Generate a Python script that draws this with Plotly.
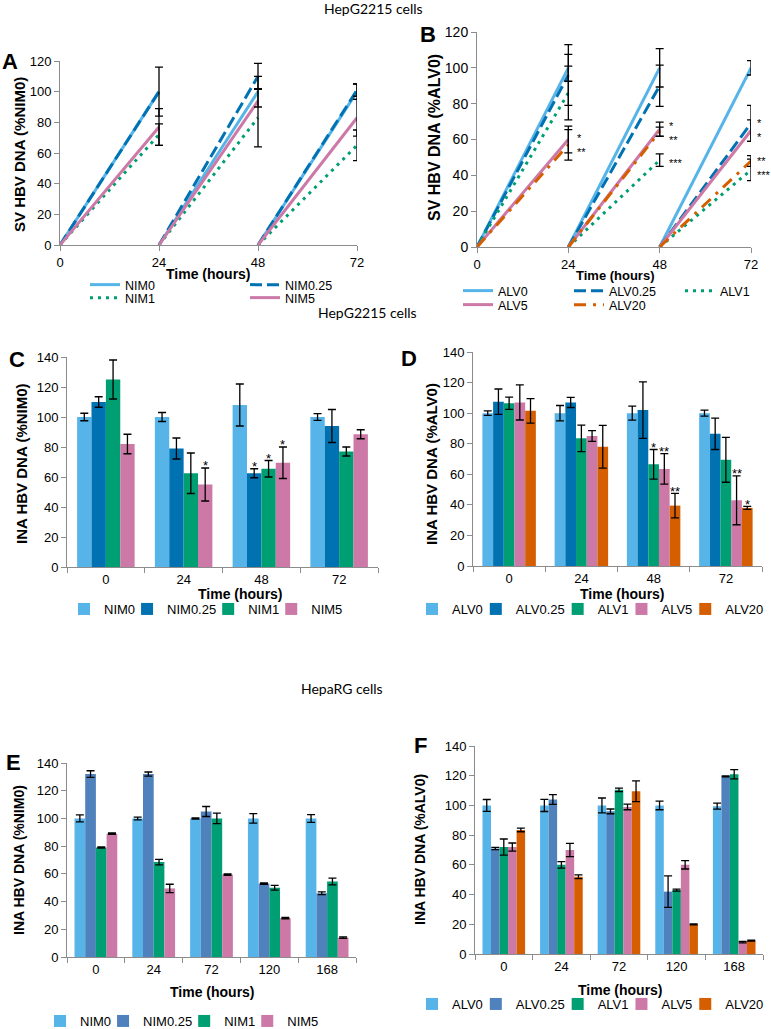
import plotly.graph_objects as go

W, H = 771, 1029

# ---------------- data ----------------
line_hours = [24, 48, 72]      # end of each 24 h interval
line_starts = [0, 24, 48]      # start of each interval (SV DNA counted from 0)

# Panel A – SV HBV DNA (%NIM0), HepG2215
sv_nim0 = [100, 100, 100]
sv_nim025 = [100, 110, 101]
sv_nim1 = [72, 83, 65]
sv_nim5 = [77, 94, 83]
sv_nim0_err = [16, 10, 5]
sv_nim025_err = [None, 8.5, 4]
sv_nim1_err = [7, 19, 10]
sv_nim5_err = [12, None, 12]

# Panel B – SV HBV DNA (%ALV0), HepG2215
sv_alv0 = [100, 100, 100]
sv_alv025 = [96, 90, 69]
sv_alv1 = [86, 48.5, 43]
sv_alv5 = [60, 65.7, 65]
sv_alv20 = [57, 64.4, 48]
sv_alv0_err = [7.5, 10.7, 4]
sv_alv025_err = [17, 11.5, 10]
sv_alv1_err = [15, 3.5, 6]
sv_alv5_err = [7.5, 4, 6]
sv_alv20_err = [8.5, 2.5, 3]
sv_alv025_sig = ["", "", "*"]
sv_alv1_sig = ["", "***", "***"]
sv_alv5_sig = ["*", "*", "*"]
sv_alv20_sig = ["**", "**", "**"]

# Panel C – INA HBV DNA (%NIM0), HepG2215
hepg_hours = ["0", "24", "48", "72"]
ina_nim0 = [100, 100, 108, 100]
ina_nim025 = [110, 79, 62.5, 94]
ina_nim1 = [125, 62.5, 65.5, 77]
ina_nim5 = [82, 55, 69.5, 88.5]
ina_nim0_err = [2.5, 3, 14, 2.2]
ina_nim025_err = [3.5, 7, 3, 11]
ina_nim1_err = [13, 13.5, 5.5, 3]
ina_nim5_err = [6.5, 11, 10.5, 3]
ina_nim0_sig = ["", "", "", ""]
ina_nim025_sig = ["", "", "*", ""]
ina_nim1_sig = ["", "", "*", ""]
ina_nim5_sig = ["", "*", "*", ""]

# Panel D – INA HBV DNA (%ALV0), HepG2215
ina_alv0 = [100, 100, 100, 100]
ina_alv025 = [107.5, 107, 102, 86.5]
ina_alv1 = [106.5, 83.5, 66.5, 69.5]
ina_alv5 = [107, 85, 63.5, 43]
ina_alv20 = [101.5, 78, 39.5, 38]
ina_alv0_err = [1.5, 5, 4.6, 2]
ina_alv025_err = [8.3, 3.3, 18.5, 10.3]
ina_alv1_err = [4, 8.7, 9.7, 14.7]
ina_alv5_err = [11.5, 3.5, 10, 16]
ina_alv20_err = [8, 14, 8, 1]
ina_alv0_sig = ["", "", "", ""]
ina_alv025_sig = ["", "", "", ""]
ina_alv1_sig = ["", "", "*", ""]
ina_alv5_sig = ["", "", "**", "**"]
ina_alv20_sig = ["", "", "**", "*"]

# Panel E – INA HBV DNA (%NIM0), HepaRG
heparg_hours = ["0", "24", "72", "120", "168"]
rg_nim0 = [100, 100, 100, 100, 100]
rg_nim025 = [132, 132, 105, 53, 46]
rg_nim1 = [79, 68.5, 100, 50, 54.5]
rg_nim5 = [89, 49.5, 59.5, 28, 14]
rg_nim0_err = [2.5, 1, 0.4, 3.4, 2.8]
rg_nim025_err = [2.4, 1.5, 3.6, 0.5, 1]
rg_nim1_err = [0.5, 2, 3.8, 1.7, 2.4]
rg_nim5_err = [0.5, 3, 0.5, 0.5, 0.5]

# Panel F – INA HBV DNA (%ALV0), HepaRG
rg_alv0 = [100, 100, 100, 100, 99.5]
rg_alv025 = [71, 104, 96, 42, 119.5]
rg_alv1 = [72, 60, 110.5, 43, 121]
rg_alv5 = [72, 70, 99, 60, 8]
rg_alv20 = [83.5, 52, 109.5, 20, 9]
rg_alv0_err = [4, 4.1, 5, 2.9, 2]
rg_alv025_err = [0.7, 3.3, 1.6, 10.6, 0.3]
rg_alv1_err = [5.4, 2.2, 1.2, 0.7, 3.1]
rg_alv5_err = [2.7, 4.4, 1.9, 2.8, 0.5]
rg_alv20_err = [1.2, 1.2, 7, 0.3, 0.3]

# ---------------- styles ----------------
C_LB = "#56B4E9"
C_DB = "#0072B2"
C_GR = "#009E73"
C_PK = "#CC79A7"
C_OR = "#D55E00"
C_SB = "#4F81BD"
AXC = "#8C8C8C"
FONT = "Liberation Sans, Arial, sans-serif"
BARGAP = 0.26
LEG_FS = 13
LINE_LEG_FS = 12.5

# approximate Arial/Liberation Sans advance widths (em) for legend spacing
CHAR_W = {"N": 0.722, "I": 0.278, "M": 0.833, "A": 0.667, "L": 0.556, "V": 0.667,
          ".": 0.278}


def text_w(s, size):
    return sum(CHAR_W.get(c, 0.556) for c in s) * size


fig = go.Figure()


def xd(a, b):
    return [a / W, b / W]


def yd(top, bottom):
    return [1 - bottom / H, 1 - top / H]


def px(x):
    return x / W


def py(y):
    return 1 - y / H


def sawtooth(values):
    xs, ys = [], []
    for s, e, v in zip(line_starts, line_hours, values):
        xs += [s, e, None]
        ys += [0, v, None]
    return xs, ys


def add_line(values, name, color, dash, ax, legend, lw):
    xs, ys = sawtooth(values)
    fig.add_trace(go.Scatter(
        x=xs, y=ys, mode="lines", name=name,
        line=dict(color=color, width=3, dash=dash),
        xaxis="x" + ax, yaxis="y" + ax, legend=legend, legendwidth=lw,
        hoverinfo="skip"))


def add_err(values, errs, ax):
    ex = [t for t, e in zip(line_hours, errs) if e is not None]
    ey = [v for v, e in zip(values, errs) if e is not None]
    ee = [e for e in errs if e is not None]
    fig.add_trace(go.Scatter(
        x=ex, y=ey, mode="markers", marker=dict(size=1, opacity=0),
        error_y=dict(type="data", array=ee, color="black", thickness=1.3, width=4),
        xaxis="x" + ax, yaxis="y" + ax, showlegend=False, cliponaxis=False,
        hoverinfo="skip"))


# Panel A
a_series = [
    (sv_nim0, sv_nim0_err, "NIM0", C_LB, "solid", "legend", 115),
    (sv_nim025, sv_nim025_err, "NIM0.25", C_DB, "12px,5px", "legend", 60),
    (sv_nim1, sv_nim1_err, "NIM1", C_GR, "3px,5px", "legend2", 115),
    (sv_nim5, sv_nim5_err, "NIM5", C_PK, "solid", "legend2", 40),
]
for v, e, n, c, d, lg, lw in a_series:
    add_line(v, n, c, d, "", lg, lw)
for v, e, n, c, d, lg, lw in a_series:
    add_err(v, e, "")

# Panel B
b_series = [
    (sv_alv0, sv_alv0_err, "ALV0", C_LB, "solid", "legend3", 66),
    (sv_alv025, sv_alv025_err, "ALV0.25", C_DB, "12px,5px", "legend3", 66),
    (sv_alv1, sv_alv1_err, "ALV1", C_GR, "3px,5px", "legend3", 36),
    (sv_alv5, sv_alv5_err, "ALV5", C_PK, "solid", "legend4", 66),
    (sv_alv20, sv_alv20_err, "ALV20", C_OR, "12px,7px,3px,7px", "legend4", 44),
]
for v, e, n, c, d, lg, lw in b_series:
    add_line(v, n, c, d, "2", lg, lw)
for v, e, n, c, d, lg, lw in b_series:
    add_err(v, e, "2")


def add_bars(cats, series, ax, legend):
    for i, (vals, errs, name, color) in enumerate(series):
        last = i == len(series) - 1
        lw = text_w(name, LEG_FS) + 4 if last else max(text_w(name, LEG_FS) - 13, 1)
        fig.add_trace(go.Bar(
            x=cats, y=vals, name=name, marker=dict(color=color, line=dict(width=0)),
            error_y=dict(type="data", array=errs, color="black", thickness=1.3, width=4),
            xaxis="x" + ax, yaxis="y" + ax, legend=legend,
            legendwidth=lw, hoverinfo="skip"))


c_series = [
    (ina_nim0, ina_nim0_err, "NIM0", C_LB),
    (ina_nim025, ina_nim025_err, "NIM0.25", C_DB),
    (ina_nim1, ina_nim1_err, "NIM1", C_GR),
    (ina_nim5, ina_nim5_err, "NIM5", C_PK),
]
d_series = [
    (ina_alv0, ina_alv0_err, "ALV0", C_LB),
    (ina_alv025, ina_alv025_err, "ALV0.25", C_DB),
    (ina_alv1, ina_alv1_err, "ALV1", C_GR),
    (ina_alv5, ina_alv5_err, "ALV5", C_PK),
    (ina_alv20, ina_alv20_err, "ALV20", C_OR),
]
e_series = [
    (rg_nim0, rg_nim0_err, "NIM0", C_LB),
    (rg_nim025, rg_nim025_err, "NIM0.25", C_SB),
    (rg_nim1, rg_nim1_err, "NIM1", C_GR),
    (rg_nim5, rg_nim5_err, "NIM5", C_PK),
]
f_series = [
    (rg_alv0, rg_alv0_err, "ALV0", C_LB),
    (rg_alv025, rg_alv025_err, "ALV0.25", C_SB),
    (rg_alv1, rg_alv1_err, "ALV1", C_GR),
    (rg_alv5, rg_alv5_err, "ALV5", C_PK),
    (rg_alv20, rg_alv20_err, "ALV20", C_OR),
]
add_bars(hepg_hours, c_series, "3", "legend5")
add_bars(hepg_hours, d_series, "4", "legend6")
add_bars(heparg_hours, e_series, "5", "legend7")
add_bars(heparg_hours, f_series, "6", "legend8")


# ---------------- axes ----------------
def axis(domain, anchor, **kw):
    d = dict(domain=domain, anchor=anchor, showline=True, linecolor=AXC, linewidth=1,
             ticks="outside", ticklen=5, tickcolor=AXC, showgrid=False, zeroline=False,
             tickfont=dict(family=FONT, size=13, color="black"), fixedrange=True)
    d.update(kw)
    return d


layout_axes = dict(
    xaxis=axis(xd(60, 357), "y", range=[0, 72], tickvals=[0, 24, 48, 72]),
    yaxis=axis(yd(61, 245), "x", range=[0, 120], dtick=20),
    xaxis2=axis(xd(477, 751), "y2", range=[0, 72], tickvals=[0, 24, 48, 72]),
    yaxis2=axis(yd(32, 247), "x2", range=[0, 120], dtick=20,
                tickfont=dict(family=FONT, size=14, color="black")),
    xaxis3=axis(xd(67, 378), "y3", type="category", tickson="boundaries"),
    yaxis3=axis(yd(357, 567), "x3", range=[0, 140], dtick=20),
    xaxis4=axis(xd(473, 762), "y4", type="category", tickson="boundaries"),
    yaxis4=axis(yd(352, 566), "x4", range=[0, 140], dtick=20),
    xaxis5=axis(xd(67, 356), "y5", type="category", tickson="boundaries"),
    yaxis5=axis(yd(763, 957), "x5", range=[0, 140], dtick=20),
    xaxis6=axis(xd(475, 763), "y6", type="category", tickson="boundaries"),
    yaxis6=axis(yd(746, 954), "x6", range=[0, 140], dtick=20),
)

# ---------------- annotations ----------------
ann = []


def text(x, y, s, size, bold=False, family=FONT, angle=0, xanchor="center"):
    ann.append(dict(x=px(x), y=py(y), xref="paper", yref="paper", text=s,
                    showarrow=False, textangle=angle, xanchor=xanchor, yanchor="middle",
                    font=dict(family=family, size=size, color="black",
                              weight="bold" if bold else "normal")))


HEAD = "Lato, Open Sans, sans-serif"
text(373, 9, "HepG2215 cells", 14, family=HEAD)
text(367, 312, "HepG2215 cells", 14, family=HEAD)
text(342, 688, "HepaRG cells", 14, family=HEAD)

for x, y, s in [(10, 61, "A"), (428, 34, "B"), (17, 359, "C"),
                (409, 358, "D"), (13, 762, "E"), (421, 745, "F")]:
    text(x, y, s, 22, bold=True)

text(20, 155, "SV HBV DNA (%NIM0)", 15, bold=True, angle=-90)
text(435, 138, "SV HBV DNA (%ALV0)", 16, bold=True, angle=-90)
text(21, 464, "INA HBV DNA (%NIM0)", 15, bold=True, angle=-90)
text(431, 464, "INA HBV DNA (%ALV0)", 15, bold=True, angle=-90)
text(19, 860, "INA HBV DNA (%NIM0)", 14, bold=True, angle=-90)
text(420, 849, "INA HBV DNA (%ALV0)", 14, bold=True, angle=-90)

text(208, 274, "Time (hours)", 14, bold=True)
text(615, 276, "Time (hours)", 13, bold=True)
text(240, 594, "Time (hours)", 14, bold=True)
text(622, 594, "Time (hours)", 14, bold=True)
text(212, 992, "Time (hours)", 14, bold=True)
text(620, 990, "Time (hours)", 14, bold=True)

# significance stars, panel B: labels close together are stacked in one block
b_px_per_unit = (247 - 32) / 120.0
b_sig = [(sv_alv025, sv_alv025_sig), (sv_alv1, sv_alv1_sig),
         (sv_alv5, sv_alv5_sig), (sv_alv20, sv_alv20_sig)]
for i, t in enumerate(line_hours):
    items = sorted([(vals[i], sig[i]) for vals, sig in b_sig if sig[i]], reverse=True)
    blocks = []
    for v, s in items:
        if blocks and (blocks[-1][-1][0] - v) * b_px_per_unit < 14:
            blocks[-1].append((v, s))
        else:
            blocks.append([(v, s)])
    for blk in blocks:
        ymid = (blk[0][0] + blk[-1][0]) / 2
        ann.append(dict(x=t, y=ymid, xref="x2", yref="y2",
                        text="<br>".join(s for _, s in blk), align="left",
                        showarrow=False, xanchor="left", yanchor="middle",
                        xshift=4 if t == 72 else 7, yshift=-3,
                        font=dict(family=FONT, size=11, color="black")))


def bar_stars(series_sig, ax):
    n = len(series_sig)
    w = (1 - BARGAP) / n
    for k, (vals, errs, sig) in enumerate(series_sig):
        for j, s in enumerate(sig):
            if not s:
                continue
            xpos = j - (1 - BARGAP) / 2 + w * (k + 0.5)
            ann.append(dict(x=xpos, y=vals[j] + errs[j], xref="x" + ax, yref="y" + ax,
                            text=s, showarrow=False, xanchor="center", yanchor="middle",
                            yshift=2, font=dict(family=FONT, size=13, color="black")))


bar_stars([(ina_nim0, ina_nim0_err, ina_nim0_sig), (ina_nim025, ina_nim025_err, ina_nim025_sig),
           (ina_nim1, ina_nim1_err, ina_nim1_sig), (ina_nim5, ina_nim5_err, ina_nim5_sig)], "3")
bar_stars([(ina_alv0, ina_alv0_err, ina_alv0_sig), (ina_alv025, ina_alv025_err, ina_alv025_sig),
           (ina_alv1, ina_alv1_err, ina_alv1_sig), (ina_alv5, ina_alv5_err, ina_alv5_sig),
           (ina_alv20, ina_alv20_err, ina_alv20_sig)], "4")


# ---------------- legends ----------------
def leg(x, y, size=LEG_FS):
    return dict(orientation="h", x=px(x), y=py(y), xanchor="left", yanchor="middle",
                bgcolor="rgba(0,0,0,0)", borderwidth=0, itemwidth=30, tracegroupgap=0,
                font=dict(family=FONT, size=size, color="black"))


fig.update_layout(
    width=W, height=H, margin=dict(l=0, r=0, t=0, b=0, autoexpand=False),
    paper_bgcolor="white", plot_bgcolor="white",
    barmode="group", bargap=BARGAP, bargroupgap=0,
    showlegend=True,
    legend=leg(85, 285, LINE_LEG_FS),
    legend2=leg(85, 298, LINE_LEG_FS),
    legend3=leg(458, 291, LINE_LEG_FS),
    legend4=leg(458, 305, LINE_LEG_FS),
    legend5=leg(64, 609),
    legend6=leg(412, 609),
    legend7=leg(40, 1021),
    legend8=leg(412, 1004),
    annotations=ann,
    **layout_axes,
)

fig.write_html(
    "out.html",
    config={"displayModeBar": False, "responsive": False},
    post_script="document.body.style.margin='0';document.body.style.overflow='hidden';",
)
